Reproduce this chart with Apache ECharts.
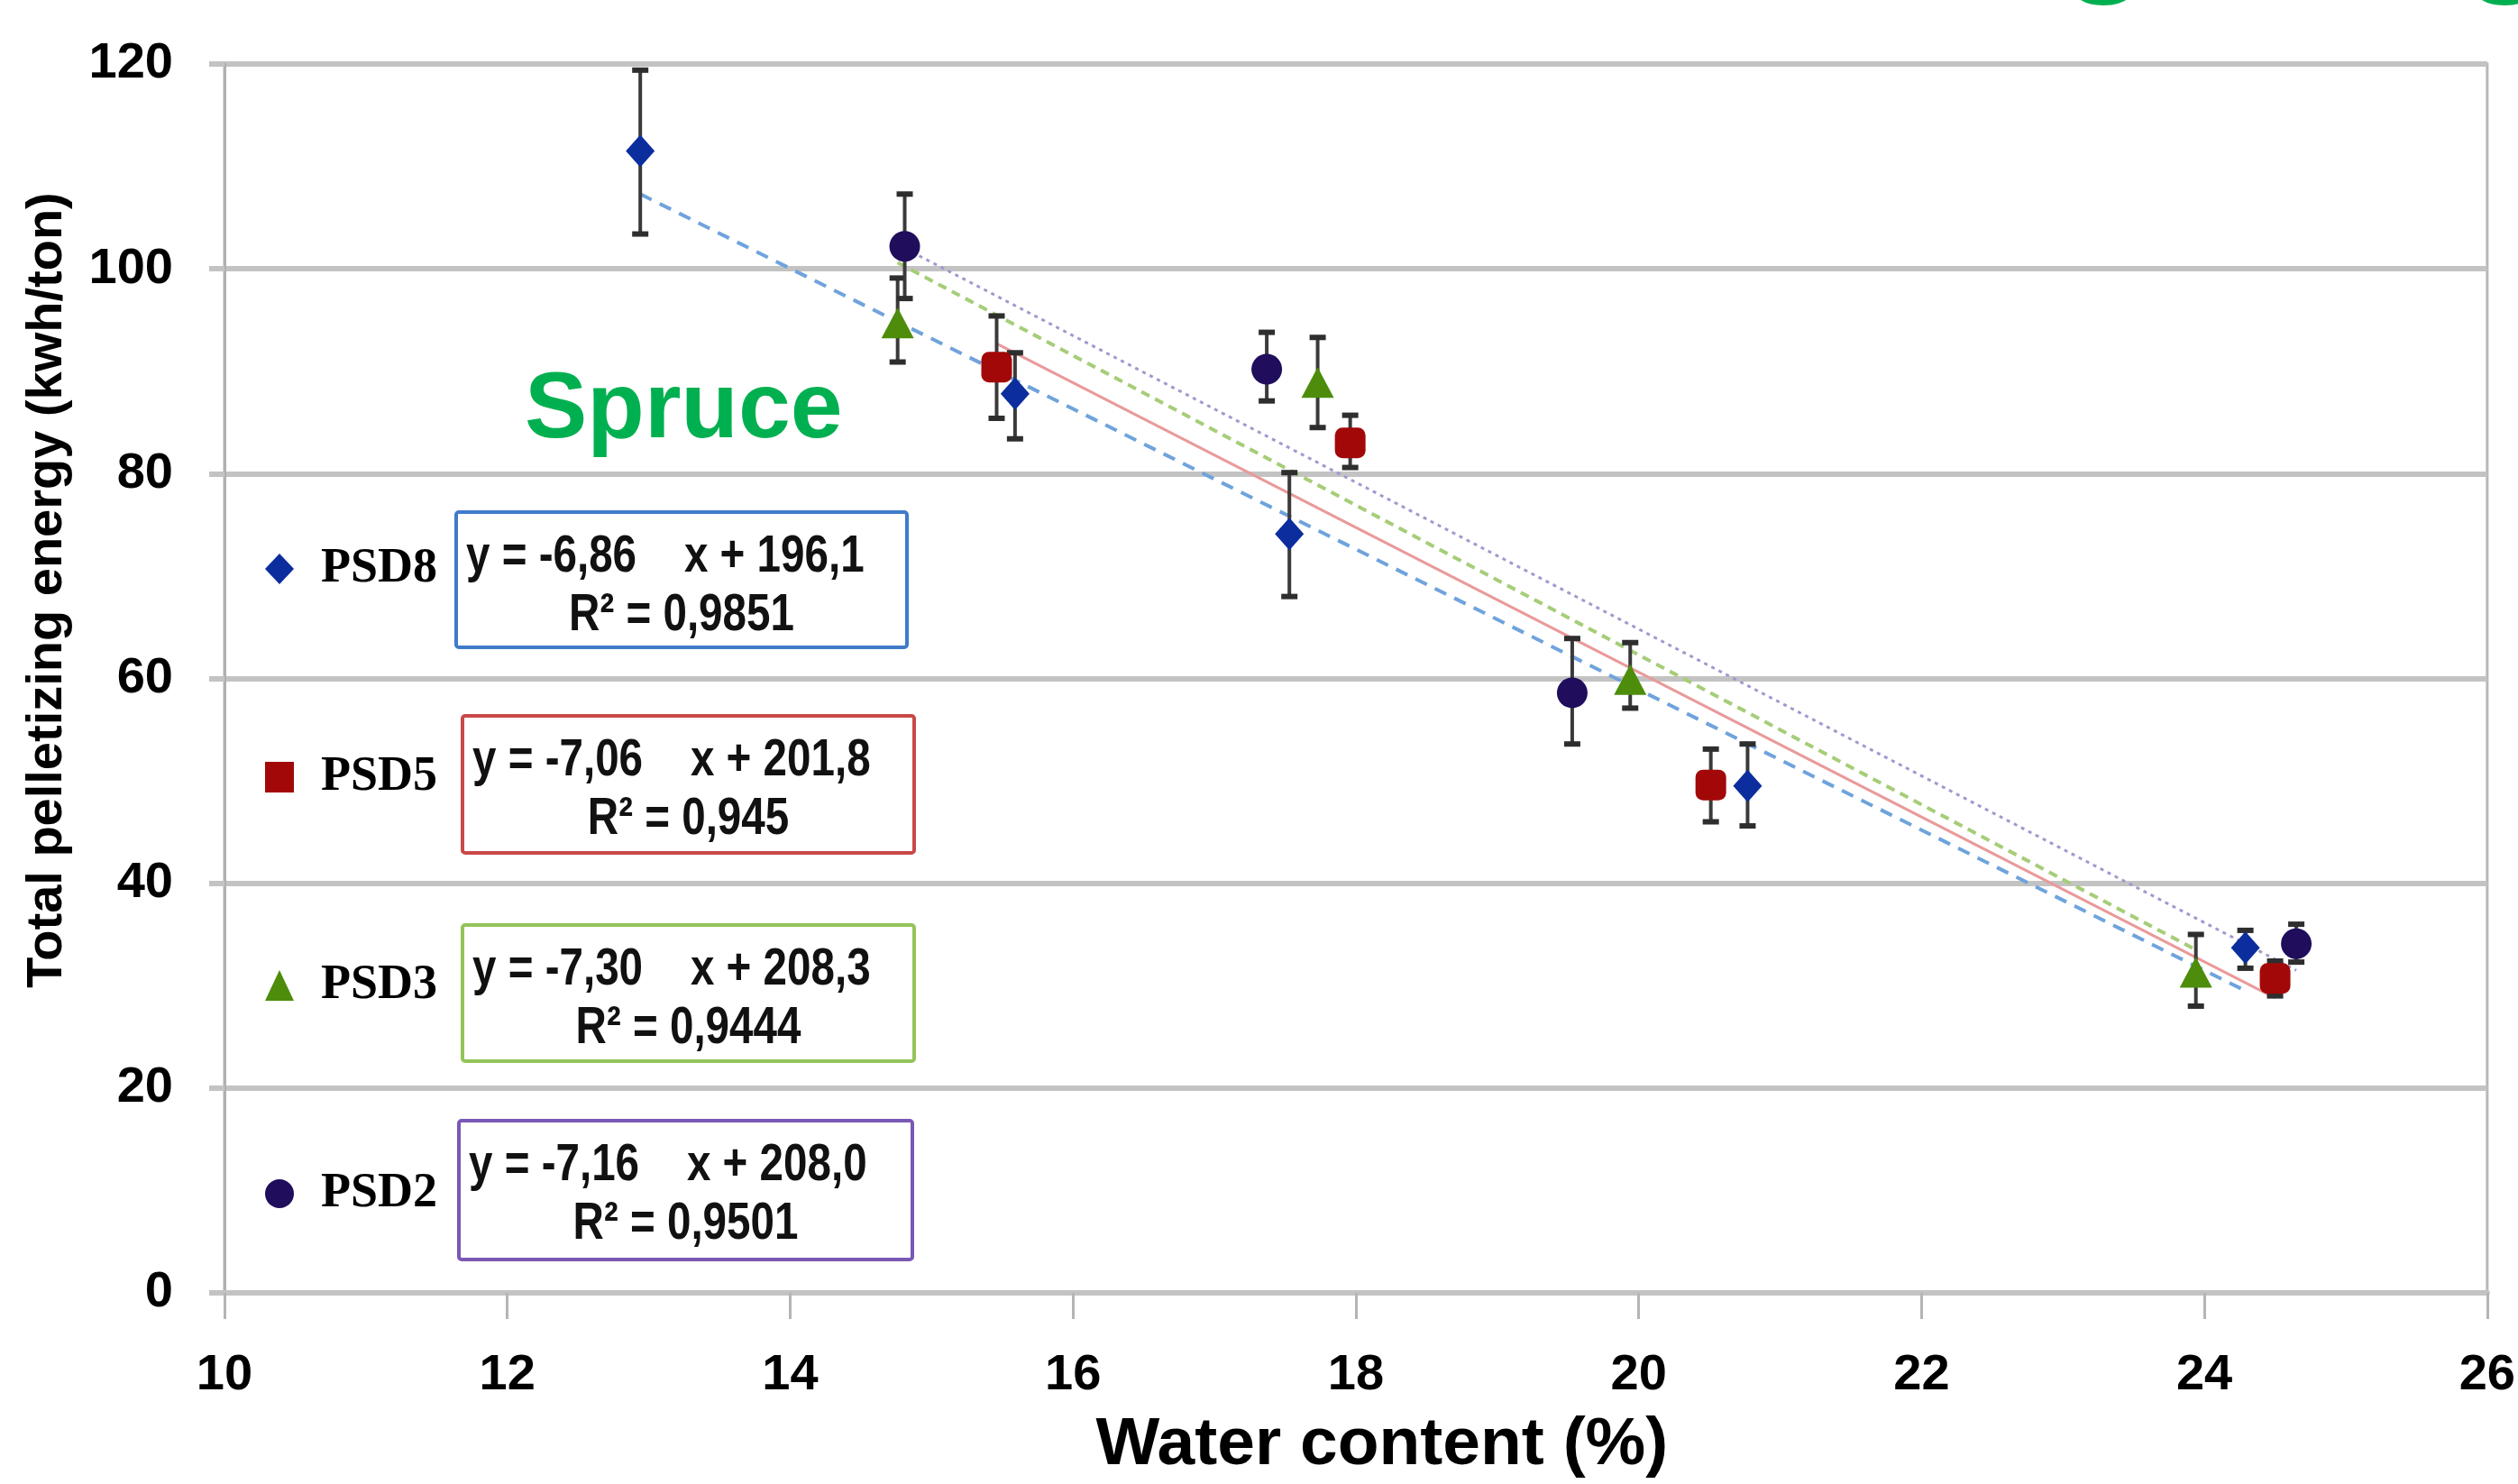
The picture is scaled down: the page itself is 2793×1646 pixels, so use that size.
<!DOCTYPE html>
<html>
<head>
<meta charset="utf-8">
<title>Spruce - pelletizing energy vs water content</title>
<script src="https://cdn.jsdelivr.net/npm/echarts@6/dist/echarts.min.js"></script>
<style>
  html, body { margin: 0; padding: 0; background: #fff; }
  #chart { width: 2793px; height: 1646px; }
</style>
</head>
<body>
<div id="chart"></div>
<script>
// water content (%) / total pelletizing energy (kwh/ton)
var psd8 = [[12.94, 111.5], [15.59, 87.8], [17.53, 74.1], [20.77, 49.5], [24.29, 33.7]];
var psd8Err = [[103.4, 119.4], [83.4, 91.8], [68.0, 80.1], [45.6, 53.6], [31.7, 35.4]];
var psd5 = [[15.46, 90.4], [17.96, 83.0], [20.51, 49.6], [24.50, 30.7]];
var psd5Err = [[85.4, 95.4], [80.6, 85.7], [46.0, 53.1], [29.0, 32.4]];
var psd3 = [[14.76, 94.7], [17.73, 88.9], [19.94, 59.9], [23.94, 31.3]];
var psd3Err = [[90.9, 99.1], [84.5, 93.3], [57.1, 63.5], [28.0, 35.0]];
var psd2 = [[14.81, 102.2], [17.37, 90.2], [19.53, 58.6], [24.65, 34.1]];
var psd2Err = [[97.1, 107.3], [87.1, 93.8], [53.6, 63.9], [32.3, 36.0]];

// linear trend lines (start / end)
var trend8 = [[12.94, 107.3], [24.29, 29.5]];
var trend5 = [[15.46, 92.7], [24.50, 28.8]];
var trend3 = [[14.76, 100.6], [23.94, 33.5]];
var trend2 = [[14.81, 102.0], [24.65, 31.5]];

var names = ['PSD8', 'PSD5', 'PSD3', 'PSD2'];
var equations = ['y = -6,86    x + 196,1', 'y = -7,06    x + 201,8', 'y = -7,30    x + 208,3', 'y = -7,16    x + 208,0'];
var r2 = ['R\u00B2 = 0,9851', 'R\u00B2 = 0,945', 'R\u00B2 = 0,9444', 'R\u00B2 = 0,9501'];

var colors = ['#0b2d9e', '#a30808', '#4d8d0b', '#200d5c'];
var boxColors = ['#3f7bc9', '#c94848', '#93c45a', '#7a58b5'];

function withErr(pts, err) {
    return pts.map(function (p, i) { return [p[0], err[i][0], err[i][1]]; });
}

function renderErr(params, api) {
    var x = api.value(0);
    var lo = api.coord([x, api.value(1)]);
    var hi = api.coord([x, api.value(2)]);
    var cap = 9;
    var st = { stroke: '#3a3a3a', lineWidth: 4 };
    var capSt = { stroke: '#2e2e2e', lineWidth: 6 };
    return {
        type: 'group',
        children: [
            { type: 'line', shape: { x1: lo[0], y1: lo[1], x2: hi[0], y2: hi[1] }, style: st },
            { type: 'line', shape: { x1: lo[0] - cap, y1: lo[1], x2: lo[0] + cap, y2: lo[1] }, style: capSt },
            { type: 'line', shape: { x1: hi[0] - cap, y1: hi[1], x2: hi[0] + cap, y2: hi[1] }, style: capSt }
        ]
    };
}

function errSeries(pts, err) {
    return {
        type: 'custom',
        renderItem: renderErr,
        data: withErr(pts, err),
        encode: { x: 0, y: [1, 2] },
        z: 3,
        silent: true
    };
}

function trendSeries(data, color, type, width) {
    return {
        type: 'line',
        data: data,
        symbol: 'none',
        z: 2,
        silent: true,
        lineStyle: { color: color, type: type, width: width }
    };
}

// equation boxes
var eqFont = 'bold 58px "Liberation Sans", Arial';
var boxes = [[506, 568, 500, 150], [513, 794, 501, 152], [513, 1026, 501, 151], [509, 1243, 503, 154]];
var graphics = [];
boxes.forEach(function (b, i) {
    graphics.push({
        type: 'rect',
        shape: { x: b[0], y: b[1], width: b[2], height: b[3], r: 3 },
        style: { fill: '#fff', stroke: boxColors[i], lineWidth: 4 },
        z: 10
    });
    graphics.push({
        type: 'text',
        x: b[0] + 11, y: b[1] + 50, scaleX: 0.82,
        style: { text: equations[i], fill: '#111', font: eqFont, align: 'left', verticalAlign: 'middle' },
        z: 11
    });
    graphics.push({
        type: 'text',
        x: b[0] + b[2] / 2, y: b[1] + 115, scaleX: 0.82,
        style: { text: r2[i], fill: '#111', font: eqFont, align: 'center', verticalAlign: 'middle' },
        z: 11
    });
});
graphics.push({
    type: 'text',
    x: 582, y: 456,
    style: {
        text: 'Spruce', fill: '#00b050',
        font: 'bold 104px "Liberation Sans", Arial',
        align: 'left', verticalAlign: 'middle'
    },
    z: 11
});
// bottoms of letters cut off at the top edge
graphics.push({
    type: 'text', x: 2335, y: -72,
    style: { text: 'g', fill: '#00b050', font: 'bold 160px "Liberation Sans", Arial', align: 'center', verticalAlign: 'middle' }
});
graphics.push({
    type: 'text', x: 2780, y: -72,
    style: { text: 'g', fill: '#00b050', font: 'bold 160px "Liberation Sans", Arial', align: 'center', verticalAlign: 'middle' }
});

var myChart = echarts.init(document.getElementById('chart'), null, { renderer: 'canvas' });

var option = {
    backgroundColor: '#fff',
    animation: false,
    grid: {
        left: 249, right: 32, top: 71, bottom: 210,
        show: true, borderColor: '#b8b8b8', borderWidth: 3
    },
    legend: {
        orient: 'vertical',
        left: 289, top: 596,
        itemGap: 171,
        itemWidth: 32, itemHeight: 34,
        data: [
            { name: 'PSD8', icon: 'diamond' },
            { name: 'PSD5', icon: 'rect' },
            { name: 'PSD3', icon: 'triangle' },
            { name: 'PSD2', icon: 'circle' }
        ],
        textStyle: {
            fontFamily: '"Liberation Serif", "Times New Roman", serif',
            fontWeight: 'bold', fontSize: 54, color: '#000',
            lineHeight: 60, padding: [0, 0, 0, 25]
        },
        selectedMode: false
    },
    xAxis: {
        type: 'value', min: 10, max: 26, interval: 2,
        name: 'Water content (%)',
        nameLocation: 'middle', nameGap: 132,
        nameTextStyle: {
            fontFamily: '"Liberation Sans", Arial', fontWeight: 'bold', fontSize: 75, color: '#000',
            padding: [0, 0, 0, 58]
        },
        axisLine: { show: true, onZero: false, lineStyle: { color: '#c3c3c3', width: 6 } },
        axisTick: { show: true, length: 29, lineStyle: { color: '#b5b5b5', width: 3 } },
        splitLine: { show: false },
        axisLabel: { margin: 64, fontFamily: '"Liberation Sans", Arial', fontWeight: 'bold', fontSize: 56, color: '#000' }
    },
    yAxis: {
        type: 'value', min: 0, max: 120, interval: 20,
        name: 'Total pelletizing energy (kwh/ton)',
        nameLocation: 'middle', nameGap: 168, nameRotate: 90,
        nameTextStyle: {
            fontFamily: '"Liberation Sans", Arial', fontWeight: 'bold', fontSize: 56, color: '#000',
            padding: [0, 0, 0, 196]
        },
        axisLine: { show: true, lineStyle: { color: '#b0b0b0', width: 3 } },
        axisTick: { show: true, length: 17, lineStyle: { color: '#c3c3c3', width: 6 } },
        splitLine: { show: true, lineStyle: { color: '#c3c3c3', width: 6 } },
        axisLabel: { margin: 57, fontFamily: '"Liberation Sans", Arial', fontWeight: 'bold', fontSize: 56, color: '#000' }
    },
    graphic: graphics,
    series: [
        trendSeries(trend8, '#6fa3dc', [14, 10], 4),
        trendSeries(trend5, '#e99a9a', 'solid', 3),
        trendSeries(trend3, '#a6cd78', [10, 7], 4),
        trendSeries(trend2, '#a497cf', [4, 5], 3),
        errSeries(psd8, psd8Err),
        errSeries(psd5, psd5Err),
        errSeries(psd3, psd3Err),
        errSeries(psd2, psd2Err),
        { name: names[0], type: 'scatter', data: psd8, symbol: 'diamond', symbolSize: [32, 36], z: 4, itemStyle: { color: colors[0], opacity: 1 } },
        { name: names[1], type: 'scatter', data: psd5, symbol: 'roundRect', symbolSize: 34, z: 4, itemStyle: { color: colors[1], opacity: 1 } },
        { name: names[2], type: 'scatter', data: psd3, symbol: 'triangle', symbolSize: [36, 34], z: 4, itemStyle: { color: colors[2], opacity: 1 } },
        { name: names[3], type: 'scatter', data: psd2, symbol: 'circle', symbolSize: 34, z: 4, itemStyle: { color: colors[3], opacity: 1 } }
    ]
};

myChart.setOption(option);
</script>
</body>
</html>
